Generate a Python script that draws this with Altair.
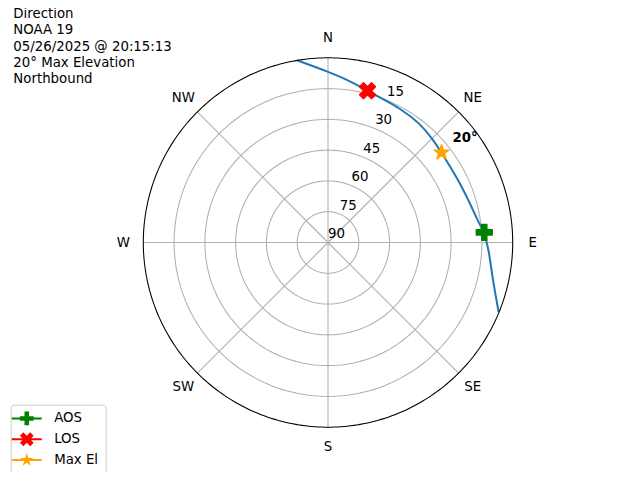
import math
import altair as alt
import pandas as pd

# ---------------- data ----------------
# satellite track: azimuth (deg, clockwise from N) and elevation (deg)
track_az = [-9.6, 0.1, 7.8, 14.5, 19.7, 28.2, 37.7, 45.8, 51.7, 58.1, 65.8, 74.6, 82.1, 86.2, 93.0, 100.7, 112.1]
track_el = [0.0, 6.8, 10.6, 13.6, 14.9, 15.8, 16.6, 18.4, 19.5, 19.9, 19.5, 18.2, 16.1, 13.8, 11.4, 8.8, 0.3]

event_names = ["AOS", "LOS", "Max El"]
event_az = [86.3, 14.6, 51.6]
event_el = [13.7, 13.6, 19.4]
event_colors = ["#008000", "#ff0000", "#ffa500"]

ring_elev = [75, 60, 45, 30, 15]
ring_labels = ["90", "75", "60", "45", "30", "15"]
ring_label_elev = [90, 75, 60, 45, 30, 15]
compass_names = ["N", "NE", "E", "SE", "S", "SW", "W", "NW"]
compass_az = [0, 45, 90, 135, 180, 225, 270, 315]

info_lines = ["Direction", "NOAA 19", "05/26/2025 @ 20:15:13", "20° Max Elevation", "Northbound"]
max_el_label = "20°"

# ---------------- geometry / styling ----------------
FONT = "DejaVu Sans"
FS = 13.33
W, H = 624, 464
K = 184.7 / 90.0          # px per degree of zenith distance
CX, CY = 320.0, 234.5     # plot centre inside the chart
XDOM = [-CX / K, (W - CX) / K]
YDOM = [-(H - CY) / K, CY / K]

def xenc(field="x"):
    return alt.X(f"{field}:Q", scale=alt.Scale(domain=XDOM, nice=False, zero=False), axis=None)

def yenc(field="y"):
    return alt.Y(f"{field}:Q", scale=alt.Scale(domain=YDOM, nice=False, zero=False), axis=None)

def polar(ch, el="el", az="az"):
    return ch.transform_calculate(
        x=f"(90 - datum.{el}) * sin(datum.{az} * PI / 180)",
        y=f"(90 - datum.{el}) * cos(datum.{az} * PI / 180)",
    )

def star_pts(r_in=0.382):
    pts = []
    for i in range(10):
        a = math.radians(i * 36)
        r = 1.0 if i % 2 == 0 else r_in
        pts.append((r * math.sin(a), -r * math.cos(a)))
    return pts

def path(pts, s=1.0):
    return "M" + "L".join(f"{x*s:.3f},{y*s:.3f}" for x, y in pts) + "Z"

PLUS = [(-1/3, -1), (1/3, -1), (1/3, -1/3), (1, -1/3), (1, 1/3), (1/3, 1/3), (1/3, 1),
        (-1/3, 1), (-1/3, 1/3), (-1, 1/3), (-1, -1/3), (-1/3, -1/3)]
XSH = [(-0.5, -1), (0, -0.5), (0.5, -1), (1, -0.5), (0.5, 0), (1, 0.5), (0.5, 1), (0, 0.5),
       (-0.5, 1), (-1, 0.5), (-0.5, 0), (-1, -0.5)]
shapes = [PLUS, XSH, star_pts()]
marker_paths = [path(p) for p in shapes]
LINE = "M-2.5,-0.17H2.5V0.17H-2.5Z"
legend_paths = [LINE + path(p, 1.15) for p in shapes]

# ---------------- layers ----------------
rings = (
    polar(alt.Chart(pd.DataFrame({"el": ring_elev}))
          .transform_calculate(az="sequence(0, 362, 2)")
          .transform_flatten(["az"]))
    .mark_line(color="#b0b0b0", strokeWidth=1.07)
    .encode(x=xenc(), y=yenc(), detail="el:N", order="az:Q")
)

spokes = (
    alt.Chart(pd.DataFrame({"az": compass_az}))
    .transform_calculate(x0="0", y0="0",
                         x="90 * sin(datum.az * PI / 180)",
                         y="90 * cos(datum.az * PI / 180)")
    .mark_rule(color="#b0b0b0", strokeWidth=1.07)
    .encode(x=xenc("x0"), y=yenc("y0"), x2="x:Q", y2="y:Q")
)

outer = (
    polar(alt.Chart(pd.DataFrame({"el": [0]}))
          .transform_calculate(az="sequence(0, 362, 1)")
          .transform_flatten(["az"]))
    .mark_line(color="black", strokeWidth=1.07)
    .encode(x=xenc(), y=yenc(), detail="el:N", order="az:Q")
)

track_df = pd.DataFrame({"az": track_az, "el": track_el, "i": list(range(len(track_az)))})
track = (
    polar(alt.Chart(track_df))
    .mark_line(color="#1f77b4", strokeWidth=2, interpolate="basis")
    .encode(x=xenc(), y=yenc(), order="i:Q")
)

ev_df = pd.DataFrame({"name": event_names, "az": event_az, "el": event_el})
markers = []
for n, p, c in zip(event_names, marker_paths, event_colors):
    markers.append(
        polar(alt.Chart(ev_df)).transform_filter(alt.datum.name == n)
        .mark_point(shape=p, filled=True, fill=c, stroke=c, strokeWidth=1.3,
                    strokeJoin="round", size=256, opacity=1)
        .encode(x=xenc(), y=yenc())
    )

leg = alt.Legend(title=None, orient="none", legendX=2.7, legendY=396.6, padding=7.2,
                 strokeColor="#cccccc", cornerRadius=3, fillColor="white",
                 labelFont=FONT, labelFontSize=FS, labelColor="black",
                 symbolOpacity=1, rowPadding=5.8, symbolOffset=2.2, labelOffset=20.7,
                 symbolSize=144, symbolStrokeWidth=0)
legend_layer = (
    polar(alt.Chart(ev_df))
    .mark_point(filled=True, opacity=0, size=144)
    .encode(
        x=xenc(), y=yenc(),
        color=alt.Color("name:N", scale=alt.Scale(domain=event_names, range=event_colors), legend=leg),
        shape=alt.Shape("name:N", scale=alt.Scale(domain=event_names, range=legend_paths), legend=leg),
    )
)

ring_text = (
    polar(alt.Chart(pd.DataFrame({"label": ring_labels, "el": ring_label_elev,
                                  "az": [22.5] * len(ring_labels)})))
    .mark_text(font=FONT, fontSize=FS, color="black", align="center", baseline="middle", dx=8.5, dy=-8.5)
    .encode(x=xenc(), y=yenc(), text="label:N")
)

compass_text = (
    alt.Chart(pd.DataFrame({"label": compass_names, "az": compass_az}))
    .transform_calculate(x="99.7 * sin(datum.az * PI / 180)",
                         y="99.7 * cos(datum.az * PI / 180)")
    .mark_text(font=FONT, fontSize=FS, color="black", align="center", baseline="middle")
    .encode(x=xenc(), y=yenc(), text="label:N")
)

max_text = (
    polar(alt.Chart(ev_df)).transform_filter(alt.datum.name == "Max El")
    .mark_text(text=max_el_label, font=FONT, fontSize=FS, fontWeight="bold", color="black",
               align="center", baseline="middle", dx=23.5, dy=-14.5)
    .encode(x=xenc(), y=yenc())
)

info_text = (
    alt.Chart(pd.DataFrame({"k": [0]}))
    .mark_text(text=info_lines, font=FONT, fontSize=FS, color="black", align="left",
               baseline="alphabetic", lineHeight=16.25)
    .encode(x=alt.value(5.3), y=alt.value(10.2))
)

chart = alt.layer(
    rings, spokes, track, outer, *markers, ring_text, compass_text, max_text, info_text, legend_layer
).properties(
    width=W, height=H, autosize=alt.AutoSizeParams(type="none"), padding=0, background="white"
).configure_view(stroke=None)

chart.save("out.html", embed_options={"renderer": "svg", "actions": False})
